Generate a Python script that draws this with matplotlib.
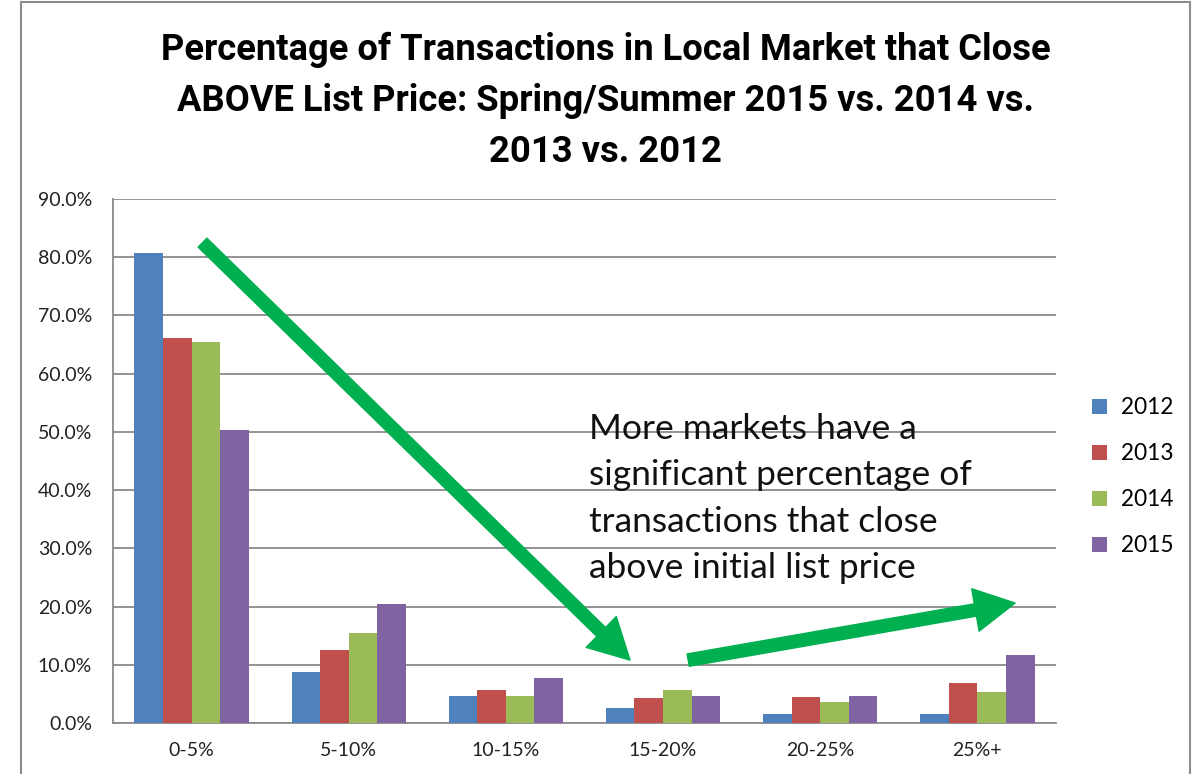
import numpy as np
import matplotlib.pyplot as plt
from matplotlib.patches import Rectangle
from matplotlib.ticker import FuncFormatter

categories = ['0-5%', '5-10%', '10-15%', '15-20%', '20-25%', '25%+']
years = ['2012', '2013', '2014', '2015']
v2012 = [80.7, 8.8, 4.6, 2.6, 1.6, 1.6]
v2013 = [66.1, 12.5, 5.7, 4.3, 4.5, 6.8]
v2014 = [65.5, 15.4, 4.6, 5.6, 3.6, 5.3]
v2015 = [50.4, 20.5, 7.8, 4.7, 4.7, 11.7]
colors = ['#4F81BD', '#C0504D', '#9BBB59', '#8064A2']

plt.rcParams['font.family'] = ['Lato', 'DejaVu Sans']

fig = plt.figure(figsize=(11.99, 7.74), dpi=100)
ax = fig.add_axes([0.0942, 0.0659, 0.8807 - 0.0942, 0.7429 - 0.0659])

# outer chart border
fig.patches.append(Rectangle((21 / 1199, -0.05), (1190 - 21) / 1199, 1.05 - 2 / 774,
                             transform=fig.transFigure, fill=False, edgecolor='#8c8c8c', linewidth=1.5))

x = np.arange(len(categories))
w = 1 / 5.5
series = [v2012, v2013, v2014, v2015]
for i, (vals, col, yr) in enumerate(zip(series, colors, years)):
    ax.bar(x + (i - 1.5) * w, vals, width=w, color=col, label=yr, zorder=3)

ax.set_xlim(-0.5, len(categories) - 0.5)
ax.set_ylim(0, 90)
ax.set_yticks(np.arange(0, 91, 10))
ax.yaxis.set_major_formatter(FuncFormatter(lambda v, p: f'{v:.1f}%'))
ax.set_xticks(x)
ax.set_xticklabels(categories)
ax.tick_params(axis='both', labelsize=14, colors='#222222', length=0)
ax.tick_params(axis='x', pad=14)
ax.tick_params(axis='y', pad=15)
ax.grid(True, axis='y', color='#8a8a8a', linewidth=1.3, zorder=0)
for s in ['top', 'right']:
    ax.spines[s].set_visible(False)
for s in ['left', 'bottom']:
    ax.spines[s].set_color('#8a8a8a')
    ax.spines[s].set_linewidth(1.3)

fig.text(0.505, 0.87, 'Percentage of Transactions in Local Market that Close\n'
         'ABOVE List Price: Spring/Summer 2015 vs. 2014 vs.\n2013 vs. 2012',
         ha='center', va='center', fontsize=26.2, fontweight='bold',
         family=['Roboto', 'DejaVu Sans'], linespacing=1.53)

ax.text(2.53, 53.3, 'More markets have a\nsignificant percentage of\ntransactions that close\nabove initial list price',
        ha='left', va='top', fontsize=25.5, color='#111111', linespacing=1.56, zorder=5)

arrow = dict(arrowstyle='simple,head_length=1.45,head_width=1.55,tail_width=0.45',
             mutation_scale=20, color='#00B050', shrinkA=0, shrinkB=0)
ax.annotate('', xy=(2.79, 10.8), xytext=(0.07, 82.5), arrowprops=arrow, zorder=6)
ax.annotate('', xy=(5.24, 20.6), xytext=(3.16, 10.8), arrowprops=arrow, zorder=6)

fig.legend(loc='center left', bbox_to_anchor=(0.894, 0.384), frameon=False,
           fontsize=16.3, handlelength=0.65, handleheight=0.65, labelspacing=1.1, handletextpad=0.6)

fig.savefig('out.png', dpi=100)
